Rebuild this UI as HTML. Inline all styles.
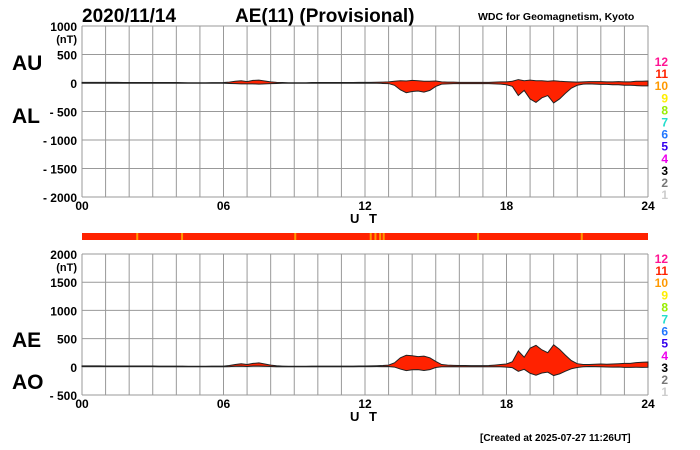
<!DOCTYPE html>
<html><head><meta charset="utf-8"><style>
html,body{margin:0;padding:0;background:#fff;}
svg{display:block;font-family:"Liberation Sans",Arial,sans-serif;font-weight:bold;}
</style></head><body>
<svg id="c" width="700" height="450" viewBox="0 0 700 450">
<text x="82" y="22" font-size="19">2020/11/14</text>
<text x="235" y="22" font-size="19">AE(11) (Provisional)</text>
<text x="478" y="20" font-size="10.5">WDC for Geomagnetism, Kyoto</text>
<text x="12" y="70" font-size="21">AU</text>
<text x="12" y="123" font-size="21">AL</text>
<text x="12" y="347" font-size="21">AE</text>
<text x="12" y="389" font-size="21">AO</text>
<text x="480" y="441" font-size="10">[Created at 2025-07-27 11:26UT]</text>
<g id="g"></g>
</svg>
<script>
const hours=[0,0.25,0.5,0.75,1,1.25,1.5,1.75,2,2.25,2.5,2.75,3,3.25,3.5,3.75,4,4.25,4.5,4.75,5,5.25,5.5,5.75,6,6.25,6.5,6.75,7,7.25,7.5,7.75,8,8.25,8.5,8.75,9,9.25,9.5,9.75,10,10.25,10.5,10.75,11,11.25,11.5,11.75,12,12.25,12.5,12.75,13,13.25,13.5,13.75,14,14.25,14.5,14.75,15,15.25,15.5,15.75,16,16.25,16.5,16.75,17,17.25,17.5,17.75,18,18.25,18.5,18.75,19,19.25,19.5,19.75,20,20.25,20.5,20.75,21,21.25,21.5,21.75,22,22.25,22.5,22.75,23,23.25,23.5,23.75,24];
const auValues=[12,12,11,11,10,10,10,9,9,9,9,9,9,8,8,8,8,6,5,5,5,5,6,6,8,15,30,40,25,45,50,35,20,10,8,5,5,5,5,8,8,8,8,8,8,8,8,10,10,12,14,15,20,30,40,35,45,40,30,30,35,20,15,15,12,12,10,10,10,12,15,20,20,30,60,40,50,40,40,30,40,30,25,20,15,20,25,25,25,20,20,25,20,20,30,30,35];
const alValues=[-5,-5,-5,-5,-5,-5,-5,-5,-5,-5,-5,-5,-5,-5,-5,-5,-5,-5,-5,-5,-5,-5,-5,-5,-5,-8,-10,-15,-15,-15,-20,-15,-10,-8,-5,-5,-5,-5,-5,-5,-5,-5,-5,-5,-5,-5,-5,-5,-5,-5,-5,-8,-10,-40,-120,-170,-150,-140,-160,-130,-60,-20,-15,-10,-10,-10,-10,-10,-10,-10,-15,-20,-30,-60,-220,-130,-280,-340,-260,-220,-350,-280,-180,-90,-40,-20,-15,-20,-25,-25,-30,-30,-40,-40,-45,-50,-50];
const xTicks=["00","06","12","18","24"];
const topTicks=[1000,500,0,-500,-1000,-1500,-2000];
const botTicks=[2000,1500,1000,500,0,-500];
const barHighlights=[2.3,4.2,9.0,12.2,12.4,12.6,12.75,16.75,21.15];
const legendNums=[12,11,10,9,8,7,6,5,4,3,2,1];
const legendColors=["#ff1493","#ff2200","#ff9900","#ffee00","#99ee00","#22ddcc","#2277ff","#3300ee","#ee00ee","#000","#777","#ccc"];

const NS="http://www.w3.org/2000/svg",g=document.getElementById('g');
function el(t,a,txt){const e=document.createElementNS(NS,t);for(const k in a)e.setAttribute(k,a[k]);if(txt!==undefined)e.textContent=txt;g.appendChild(e);return e;}
const X0=82,X1=648;
const xs=h=>X0+(X1-X0)*h/24;
function panel(top,bot,vmax,vmin,ticks,name,legTop){
  const ys=v=>top+(bot-top)*(vmax-v)/(vmax-vmin);
  for(let h=0;h<=24;h++){const l=el('line',{x1:xs(h),x2:xs(h),y1:top,y2:bot,stroke:'#999','stroke-width':1});
    }
  ticks.forEach((v,i)=>{const l=el('line',{x1:X0,x2:X1,y1:ys(v),y2:ys(v),stroke:'#999','stroke-width':1});
    
    const lab=(v<0?'- '+(-v):String(v));
    const t=el('text',{x:77,y:ys(v)+5,'font-size':12,'text-anchor':'end'},lab);
    
    if(i===0){const u=el('text',{x:77,y:ys(v)+17,'font-size':11,'text-anchor':'end'},'(nT)');
      }
  });
  xTicks.forEach(s=>{const t=el('text',{x:xs(+s),y:bot+13,'font-size':12,'text-anchor':'middle'},s);
    });
  const ut=el('text',{x:xs(12),y:bot+26,'font-size':13,'text-anchor':'middle','letter-spacing':'3'},'U T');
  
  legendNums.forEach((n,i)=>{const t=el('text',{x:668,y:legTop+i*12.1,'font-size':12,'text-anchor':'end',fill:legendColors[i]},n);
    });
  return ys;
}
const ys1=panel(26,197,1000,-2000,topTicks,'top',66);
let up=hours.map((h,i)=>xs(h)+','+ys1(auValues[i])).join(' ');
let dn=hours.map((h,i)=>xs(h)+','+ys1(alValues[i])).reverse().join(' ');
let p=el('polygon',{points:up+' '+dn,fill:'#ff2200',stroke:'#222','stroke-width':1});

const ys2=panel(254,395,2000,-500,botTicks,'bottom',263);
const ae=auValues.map((u,i)=>u-alValues[i]);
const ao=auValues.map((u,i)=>(u+alValues[i])/2);
up=hours.map((h,i)=>xs(h)+','+ys2(ae[i])).join(' ');
dn=hours.map((h,i)=>xs(h)+','+ys2(ao[i])).reverse().join(' ');
p=el('polygon',{points:up+' '+dn,fill:'#ff2200',stroke:'#222','stroke-width':1});

const bar=el('rect',{x:X0,y:233,width:X1-X0,height:7,fill:'#ff2200'});

barHighlights.forEach(h=>{const r=el('rect',{x:xs(h),y:233,width:2,height:7,fill:'#ff9900'});
  });
</script>
</body></html>
